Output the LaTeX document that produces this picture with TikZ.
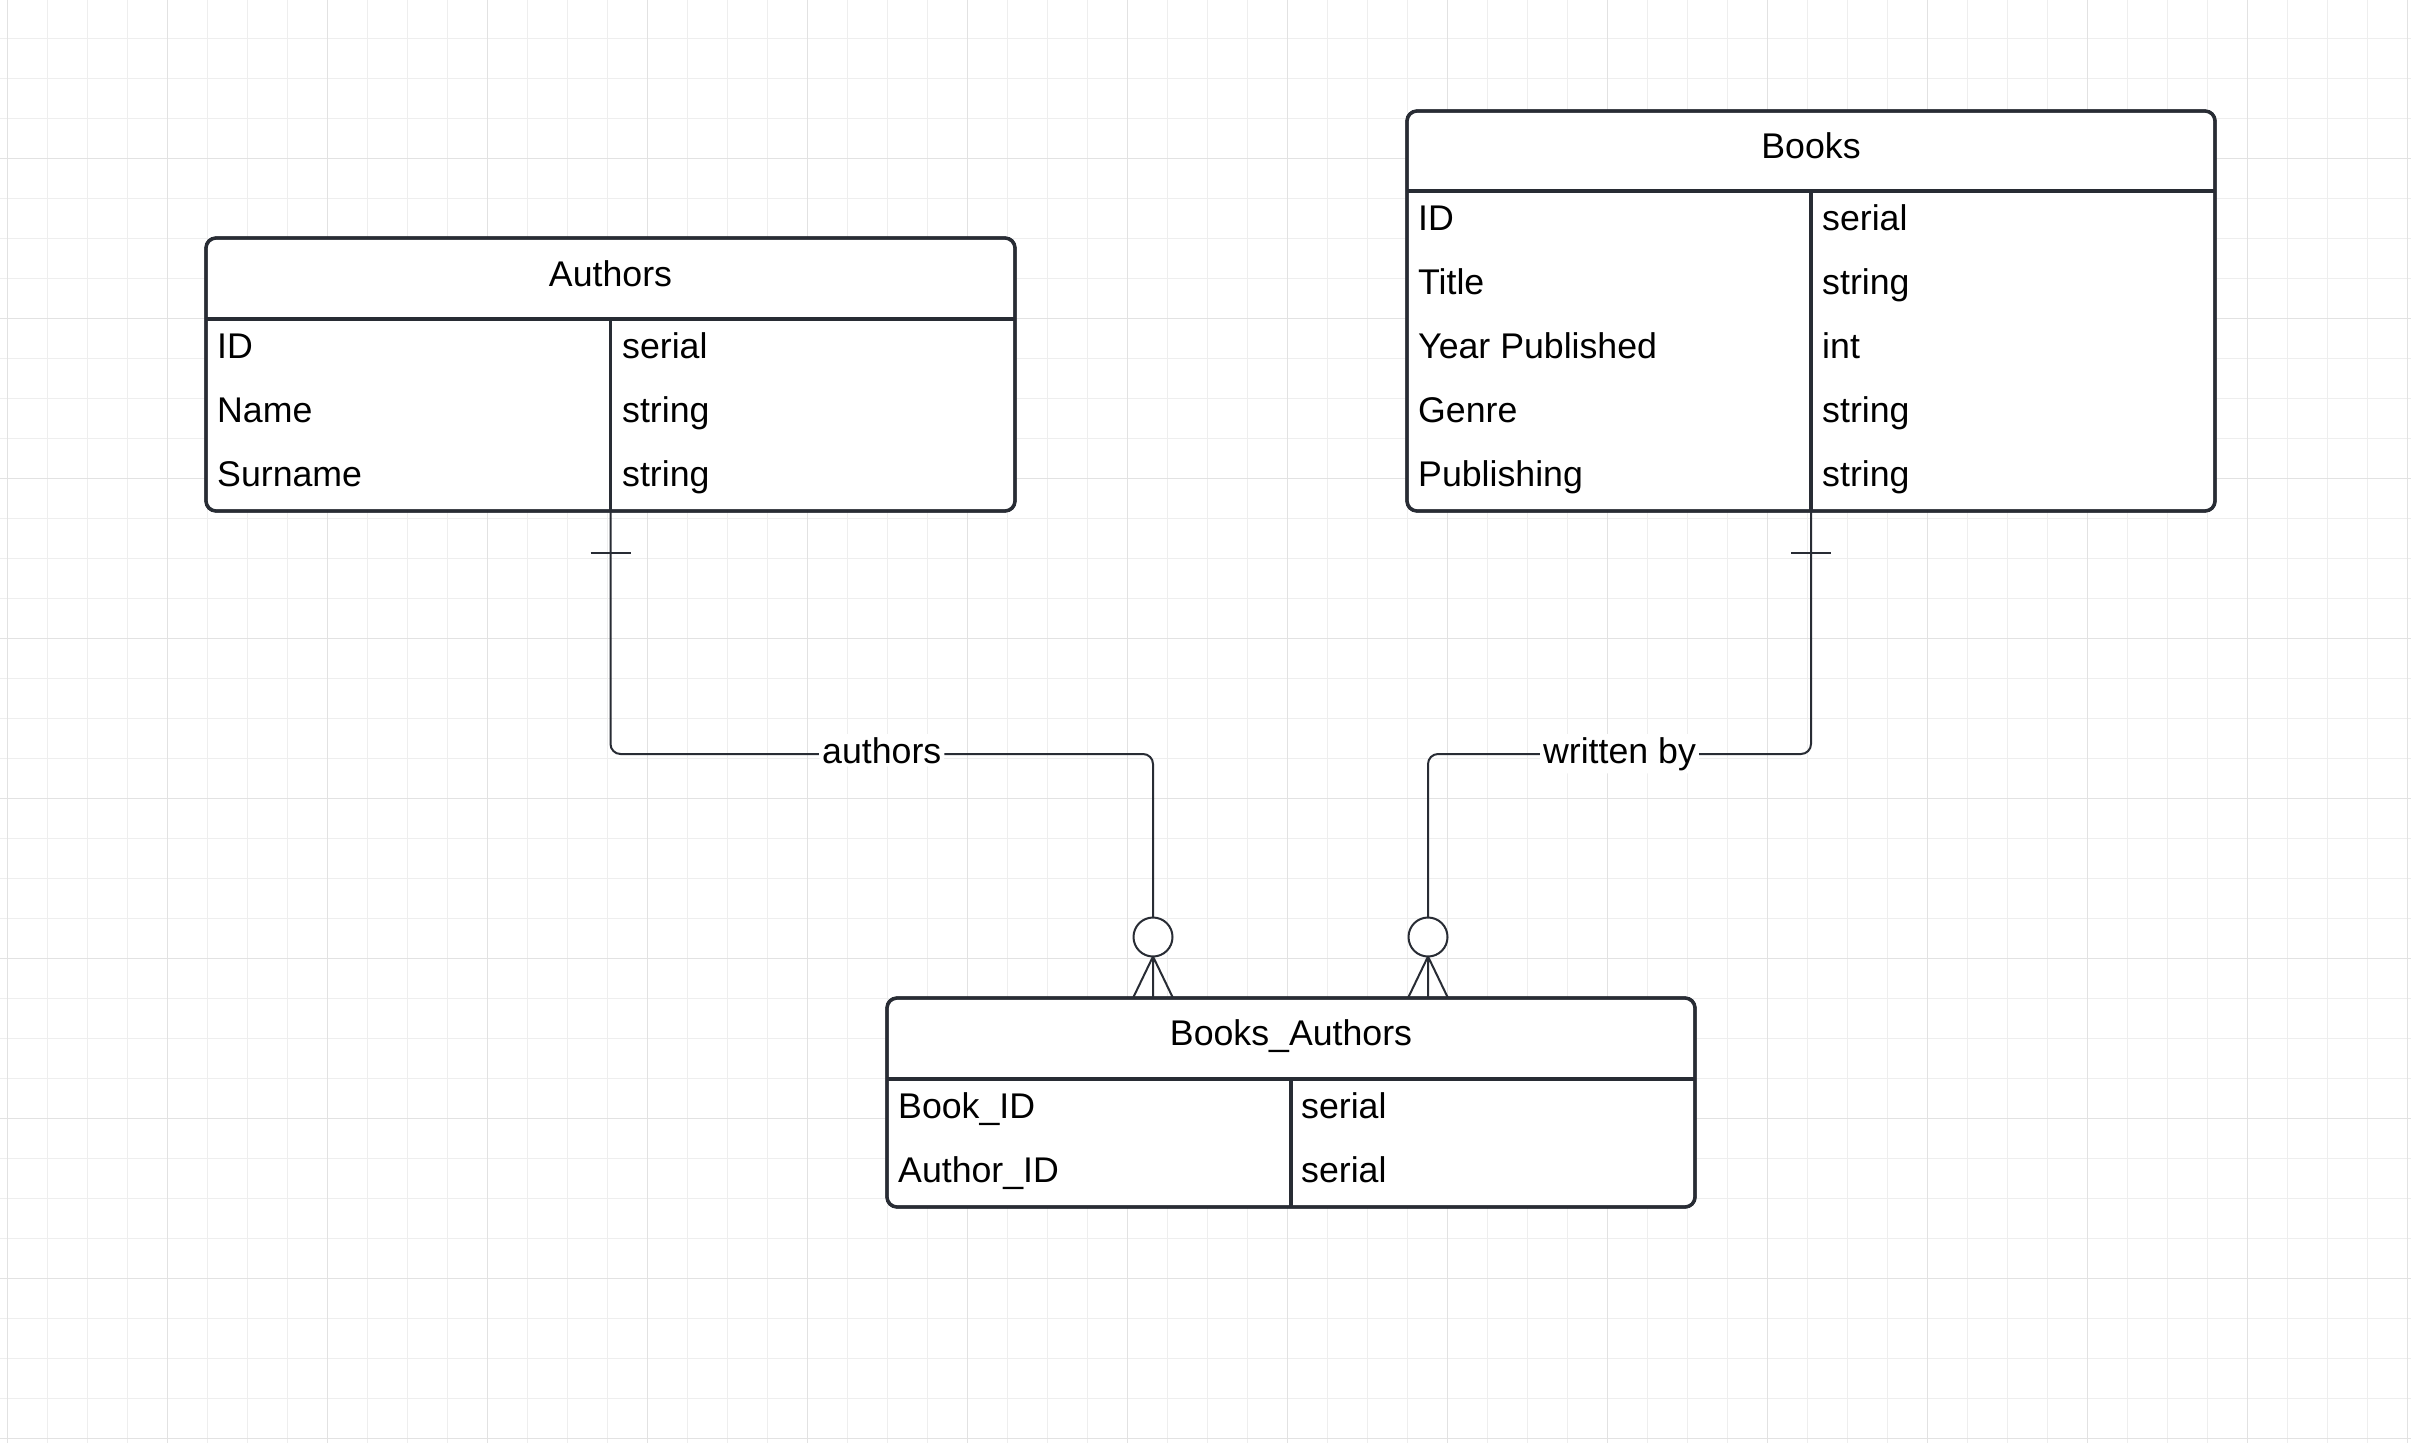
\documentclass[tikz,border=0pt]{standalone}
\usepackage{fontspec}
\setmainfont{Liberation Sans}
\definecolor{ink}{RGB}{40,44,52}
\definecolor{gridminor}{RGB}{238,238,238}
\definecolor{gridmajor}{RGB}{226,226,226}
\begin{document}
\begin{tikzpicture}[x=1pt,y=-1pt,
  font=\fontsize{35.7}{42}\selectfont,
  tbl/.style={draw=ink, line width=3.3pt, fill=white, rounded corners=10pt,
    anchor=north west, inner sep=0pt, outer sep=0pt},
  sepline/.style={draw=ink, line width=3.3pt},
  conn/.style={draw=ink, line width=2pt, rounded corners=10pt},
  thin/.style={draw=ink, line width=2pt},
  cell/.style={anchor=base west, inner sep=0pt, text=black},
  ttl/.style={anchor=base, inner sep=0pt, text=black},
  lbl/.style={fill=white, inner sep=3pt, anchor=base, yshift=-9pt, text=black},
  opt/.style={circle, draw=ink, line width=2pt, fill=white, minimum size=39pt, inner sep=0pt, outer sep=0pt}]

\useasboundingbox (0,0) rectangle (2411,1443);
\fill[white] (0,0) rectangle (2411,1443);

% grid
\foreach \x in {7,47,...,2407} \draw[gridminor, line width=1pt] (\x,0) -- (\x,1443);
\foreach \y in {38,78,...,1438} \draw[gridminor, line width=1pt] (0,\y) -- (2411,\y);
\foreach \x in {7,167,...,2407} \draw[gridmajor, line width=1pt] (\x,0) -- (\x,1443);
\foreach \y in {158,318,...,1438} \draw[gridmajor, line width=1pt] (0,\y) -- (2411,\y);

% tables (frames)
\node[tbl, minimum width=809pt, minimum height=273pt] (authors) at (206,238) {};
\node[tbl, minimum width=808pt, minimum height=400pt] (books) at (1407,111) {};
\node[tbl, minimum width=808pt, minimum height=209pt] (ba) at (887,998) {};

% helper coordinates
\coordinate (hrow) at (0,754);
\coordinate (tk) at (0,553);

% optionality circles
\node[opt] (c1) at (1153,937) {};
\node[opt] (c2) at (1428,937) {};

% connectors
\draw[conn] (authors.south) -- (authors.south |- hrow) -- (c1.north |- hrow)
  node[lbl, midway] (lauth) {authors} -- (c1.north);
\draw[conn] (books.south) -- (books.south |- hrow) -- (c2.north |- hrow)
  node[lbl, midway] (lbook) {written by} -- (c2.north);

% one marks
\coordinate (t1) at (authors.south |- tk);
\coordinate (t2) at (books.south |- tk);
\draw[thin] ([xshift=-20pt]t1) -- ([xshift=20pt]t1);
\draw[thin] ([xshift=-20pt]t2) -- ([xshift=20pt]t2);

% crow's feet
\coordinate (f1) at (c1.south |- ba.north);
\coordinate (f2) at (c2.south |- ba.north);
\draw[thin] (c1.south) -- (f1) (c1.south) -- ([xshift=-20pt]f1) (c1.south) -- ([xshift=20pt]f1);
\draw[thin] (c2.south) -- (f2) (c2.south) -- ([xshift=-20pt]f2) (c2.south) -- ([xshift=20pt]f2);

% redraw table frames on top
\node[tbl, fill=none, minimum width=809pt, minimum height=273pt] at (206,238) {};
\node[tbl, fill=none, minimum width=808pt, minimum height=400pt] at (1407,111) {};
\node[tbl, fill=none, minimum width=808pt, minimum height=209pt] at (887,998) {};

% separators
\draw[sepline] (206,319) -- (1015,319);
\draw[sepline] (authors.south) -- (authors.south |- 0,319);
\draw[sepline] (1407,191) -- (2215,191);
\draw[sepline] (books.south) -- (books.south |- 0,191);
\draw[sepline] (887,1079) -- (1695,1079);
\draw[sepline] (ba.south) -- (ba.south |- 0,1079);

% Authors text
\node[ttl] (at) at (610.5,286) {Authors};
\node[cell] (a1) at (217,358) {ID};
\node[cell] (a2) at (217,422) {Name};
\node[cell] (a3) at (217,486) {Surname};
\node[cell] (a1v) at (622,358) {serial};
\node[cell] (a2v) at (622,422) {string};
\node[cell] (a3v) at (622,486) {string};

% Books text
\node[ttl] (bt) at (1811,158) {Books};
\node[cell] (b1) at (1418,230) {ID};
\node[cell] (b2) at (1418,294) {Title};
\node[cell] (b3) at (1418,358) {Year Published};
\node[cell] (b4) at (1418,422) {Genre};
\node[cell] (b5) at (1418,486) {Publishing};
\node[cell] (b1v) at (1822,230) {serial};
\node[cell] (b2v) at (1822,294) {string};
\node[cell] (b3v) at (1822,358) {int};
\node[cell] (b4v) at (1822,422) {string};
\node[cell] (b5v) at (1822,486) {string};

% Books_Authors text
\node[ttl] (bat) at (1291,1045) {Books\_Authors};
\node[cell] (ba1) at (898,1118) {Book\_ID};
\node[cell] (ba2) at (898,1182) {Author\_ID};
\node[cell] (ba1v) at (1301,1118) {serial};
\node[cell] (ba2v) at (1301,1182) {serial};
\end{tikzpicture}
\end{document}
